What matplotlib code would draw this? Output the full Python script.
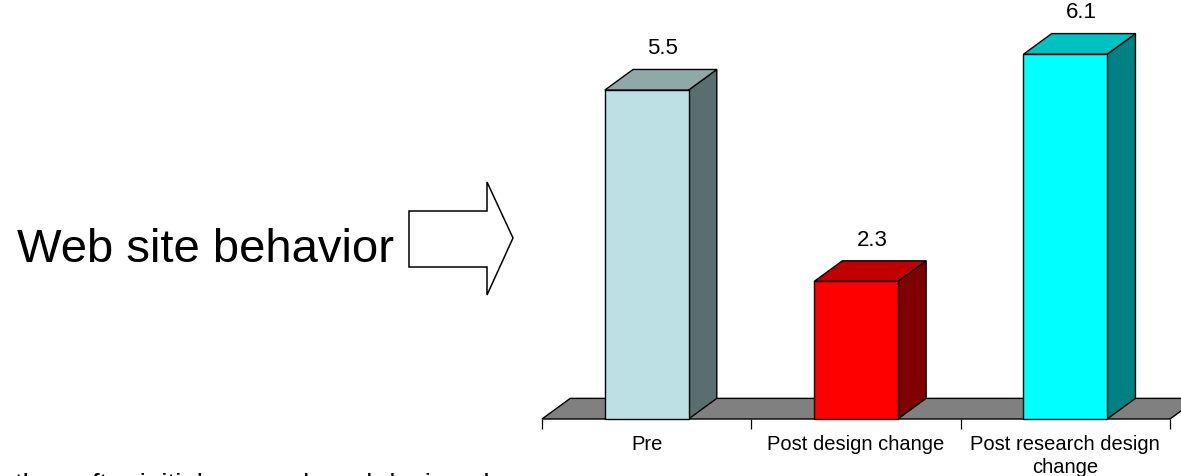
import matplotlib
matplotlib.use("Agg")
import matplotlib.pyplot as plt
from matplotlib.patches import Polygon

plt.rcParams['font.family'] = ['Liberation Sans', 'DejaVu Sans']

# data
categories = ["Pre", "Post design change", "Post research design\nchange"]
values = [5.5, 2.3, 6.1]
front_colors = ["#BCE0E4", "#FF0000", "#00FFFF"]
top_colors = ["#8FA9AA", "#C00000", "#00C0C0"]
side_colors = ["#5A6E6E", "#800000", "#008080"]

W, H = 1181, 477
fig = plt.figure(figsize=(W / 100, H / 100), dpi=100)

# chart axes: floor front from x=542..1170 px, y=0 at 420 px
ax = fig.add_axes([542 / W, (H - 420) / H, 628 / W, 418.6 / H])
ax.set_xlim(0, 3)
ax.set_ylim(0, 7)

dx, dy = 0.135, 0.345   # depth offset in data units
bw = 0.4

# floor
floor = Polygon([(0, 0), (3, 0), (3 + dx, dy), (dx, dy)], closed=True,
                facecolor="#808080", edgecolor="black", lw=1.0, clip_on=False, zorder=1)
ax.add_patch(floor)

for i, v in enumerate(values):
    x0 = i + 0.5 - bw / 2
    x1 = i + 0.5 + bw / 2
    front = Polygon([(x0, 0), (x1, 0), (x1, v), (x0, v)], closed=True,
                    facecolor=front_colors[i], edgecolor="black", lw=1.0, zorder=3, clip_on=False)
    side = Polygon([(x1, 0), (x1 + dx, dy), (x1 + dx, v + dy), (x1, v)], closed=True,
                   facecolor=side_colors[i], edgecolor="black", lw=1.0, zorder=2, clip_on=False)
    top = Polygon([(x0, v), (x1, v), (x1 + dx, v + dy), (x0 + dx, v + dy)], closed=True,
                  facecolor=top_colors[i], edgecolor="black", lw=1.0, zorder=2, clip_on=False)
    ax.add_patch(side)
    ax.add_patch(top)
    ax.add_patch(front)
    ax.text(i + 0.5 + dx / 2 + 0.01, v + dy + 0.27, f"{v:.1f}", ha="center", va="baseline",
            fontsize=16)

for s in ["top", "right", "left", "bottom"]:
    ax.spines[s].set_visible(False)
ax.set_yticks([])
ax.set_xticks([0, 1, 2, 3])
ax.set_xticklabels([])
ax.tick_params(axis="x", which="major", length=7.5, width=0.9, direction="out")
ax.set_xticks([0.5, 1.5, 2.5], minor=True)
ax.set_xticklabels(categories, minor=True, fontsize=14.5, linespacing=1.25)
ax.tick_params(axis="x", which="minor", length=0, pad=11)

# left side: title text and outline arrow
fig.text(17 / W, 1 - 262 / H, "Web site behavior", fontsize=34, ha="left", va="baseline")

ov = fig.add_axes([0, 0, 1, 1])
ov.set_xlim(0, W)
ov.set_ylim(H, 0)
ov.axis("off")
ov.patch.set_alpha(0)
arrow = Polygon([(409, 212), (487, 212), (487, 183), (513, 239), (487, 296), (487, 268), (409, 268)],
                closed=True, facecolor="white", edgecolor="black", lw=1.1)
ov.add_patch(arrow)

# cut-off line of text at the bottom (only the tops show in the reference)
fig.text(15 / W, 1 - 473.5 / H, "than after initial research and design change",
         fontsize=20, ha="left", va="top")

fig.savefig("out.png", dpi=100)
